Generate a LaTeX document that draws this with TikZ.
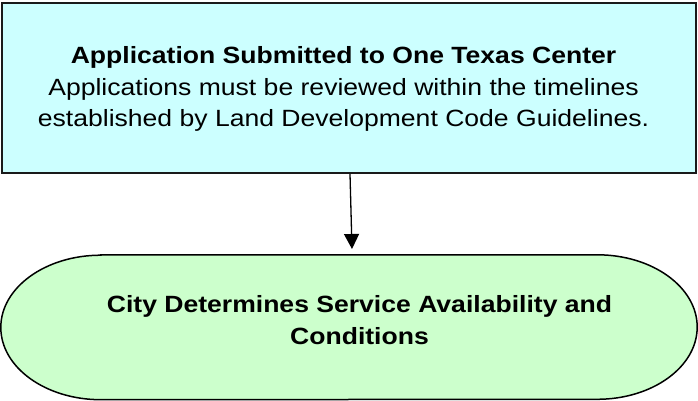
\documentclass[tikz,border=0pt]{standalone}
\usepackage{fontspec}
\setmainfont{Liberation Sans}[FakeStretch=1.13]
\usetikzlibrary{arrows.meta}
\definecolor{boxcyan}{HTML}{CCFFFF}
\definecolor{termgreen}{HTML}{CCFFCC}
\definecolor{edgegray}{HTML}{1A1A1A}
\begin{document}
\begin{tikzpicture}[x=1pt,y=1pt,
  procbox/.style={draw=edgegray, fill=boxcyan, line width=2pt, inner sep=0pt, minimum width=694pt, minimum height=170pt},
  termshape/.style={draw=black, fill=termgreen, line width=1.5pt},
  labeltext/.style={align=center, inner sep=0pt, font=\fontsize{23.5pt}{31.5pt}\selectfont},
  flow/.style={draw=black, line width=1.3pt, -{Triangle[length=15pt,width=15pt]}}]
\useasboundingbox (0,0) rectangle (698,401);
% process box
\node[procbox] (box) at (349,313) {};
\node[labeltext, anchor=base] (boxtext) at (343.5,274)
  {\textbf{Application Submitted to One Texas Center}\\
   Applications must be reviewed within the timelines\\
   established by Land Development Code Guidelines.};
% terminal shape
\node[inner sep=0pt, minimum width=696pt, minimum height=144.5pt] (term) at (349,73.75) {};
\path[termshape] ([xshift=100pt]term.north west) -- ([xshift=-100pt]term.north east)
  arc[start angle=90, end angle=-90, x radius=100pt, y radius=72.25pt]
  -- ([xshift=100pt]term.south west)
  arc[start angle=270, end angle=90, x radius=100pt, y radius=72.25pt] -- cycle;
\node[labeltext, anchor=base, font=\fontsize{23.5pt}{31.5pt}\selectfont\bfseries] (termtext) at (359.5,56.5)
  {City Determines Service Availability and\\ Conditions};
% connector
\coordinate (tip) at (352,152);
\draw[flow] ([xshift=1pt]box.south) -- (tip);
\end{tikzpicture}
\end{document}
